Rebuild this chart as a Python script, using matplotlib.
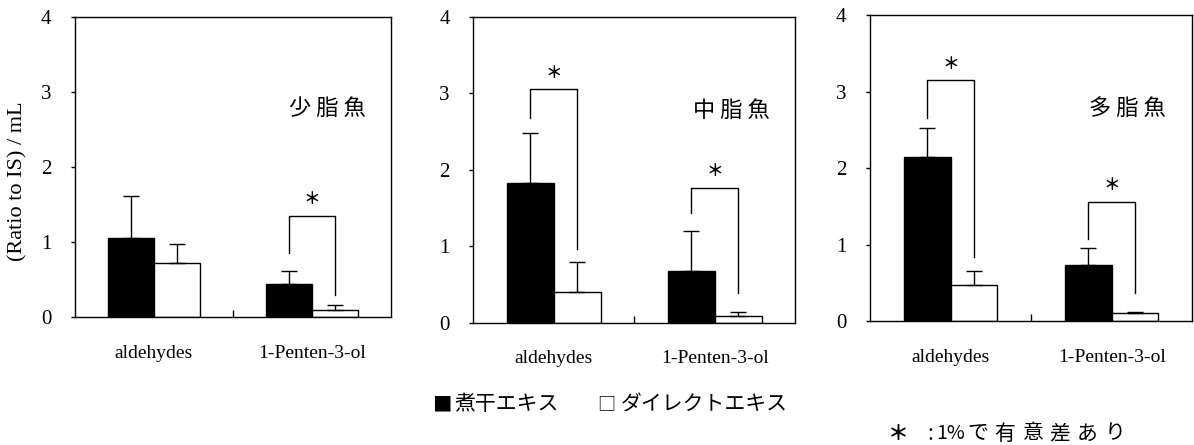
import numpy as np
import matplotlib
matplotlib.use("Agg")
import matplotlib.pyplot as plt

# data
categories = ["aldehydes", "1-Penten-3-ol"]
panel_names = ["少 脂 魚", "中 脂 魚", "多 脂 魚"]

niboshi_mean = [[1.05, 0.44], [1.83, 0.67], [2.14, 0.73]]
niboshi_sd = [[0.57, 0.18], [0.65, 0.53], [0.39, 0.23]]
direct_mean = [[0.72, 0.10], [0.40, 0.09], [0.47, 0.10]]
direct_sd = [[0.25, 0.06], [0.39, 0.055], [0.19, 0.02]]

# significance brackets: (category index, top, left leg bottom, right leg bottom)
brackets = [
    [(1, 1.35, 0.86, 0.30)],
    [(0, 3.05, 2.68, 0.97), (1, 1.76, 1.43, 0.39)],
    [(0, 3.15, 2.66, 0.84), (1, 1.56, 1.07, 0.37)],
]

legend_marks = ["■", "□"]
legend_labels = ["煮干エキス", "ダイレクトエキス"]
note_head = ["＊", ":", "1%"]
note_tail = "で有意差あり"
ylabel = "(Ratio to IS) / mL"

serif = "Liberation Serif"
jp = ["Noto Sans CJK JP", "DejaVu Sans"]

W, H = 1194, 445
fig = plt.figure(figsize=(W / 100, H / 100), dpi=100)

# axes boxes in figure fractions (left, bottom, width, height)
boxes = [
    (0.0628, 0.2876, 0.2647, 0.6742),
    (0.3964, 0.2748, 0.2697, 0.6877),
    (0.7286, 0.2787, 0.2700, 0.6869),
]

bw = 0.29
x = np.arange(len(categories))

for i, box in enumerate(boxes):
    ax = fig.add_axes(box)
    zeros = np.zeros(len(categories))
    ax.bar(x - bw / 2, niboshi_mean[i], bw, color="black", edgecolor="black",
           linewidth=1, yerr=[zeros, niboshi_sd[i]], capsize=6,
           error_kw=dict(ecolor="black", elinewidth=1, capthick=1))
    ax.bar(x + bw / 2, direct_mean[i], bw, color="white", edgecolor="black",
           linewidth=1, yerr=[zeros, direct_sd[i]], capsize=6,
           error_kw=dict(ecolor="black", elinewidth=1, capthick=1))

    for (c, top, lb, rb) in brackets[i]:
        xl = c - bw / 2
        xr = c + bw / 2
        ax.plot([xl, xl, xr, xr], [lb, top, top, rb], color="black", lw=1)
        ax.annotate("＊", xy=(c, top), xytext=(0, 12), textcoords="offset points",
                    ha="center", va="center", fontsize=12, fontweight="bold",
                    family=jp)

    ax.text(1.1, 2.78, panel_names[i], ha="center", va="center",
            fontsize=16, family=jp)

    ax.set_xlim(-0.5, 1.5)
    ax.set_ylim(0, 4)
    ax.set_yticks([0, 1, 2, 3, 4])
    ax.set_yticklabels(["0", "1", "2", "3", "4"], family=serif, fontsize=15)
    ax.set_xticks(x)
    ax.set_xticklabels(categories, family=serif, fontsize=14)
    ax.set_xticks([0.5], minor=True)
    ax.tick_params(axis="x", which="major", length=0, pad=20)
    ax.tick_params(axis="x", which="minor", direction="in", length=5, width=1)
    ax.tick_params(axis="y", direction="out", length=3, width=1, pad=14)
    for sp in ax.spines.values():
        sp.set_color("black")
        sp.set_linewidth(1)

fig.text(0.015, 1 - 181.5 / H, ylabel, rotation=90, ha="center", va="center",
         family=serif, fontsize=16)

# legend (drawn as text, like the original)
ly = 1 - 404.5 / H
for mark, label, xm, fm, xt in zip(legend_marks, legend_labels, [442, 606],
                                   [14, 13], [454, 621]):
    fig.text(xm / W, ly, mark, ha="center", va="center", fontsize=fm, family=jp)
    fig.text(xt / W, ly, label, ha="left", va="center", fontsize=15, family=jp)

# footnote, spaced out like the original
ny = 1 - 433.5 / H
for s, xs, fs, fw in zip(note_head, [898, 930, 951], [15, 15, 14],
                         ["bold", "normal", "normal"]):
    fig.text(xs / W, ny, s, ha="center", va="center", fontsize=fs,
             fontweight=fw, family=jp)
for k, ch in enumerate(note_tail):
    fig.text((967 + 27.5 * k) / W, ny, ch, ha="left", va="center",
             fontsize=15, family=jp)

fig.savefig("out.png", dpi=100)
